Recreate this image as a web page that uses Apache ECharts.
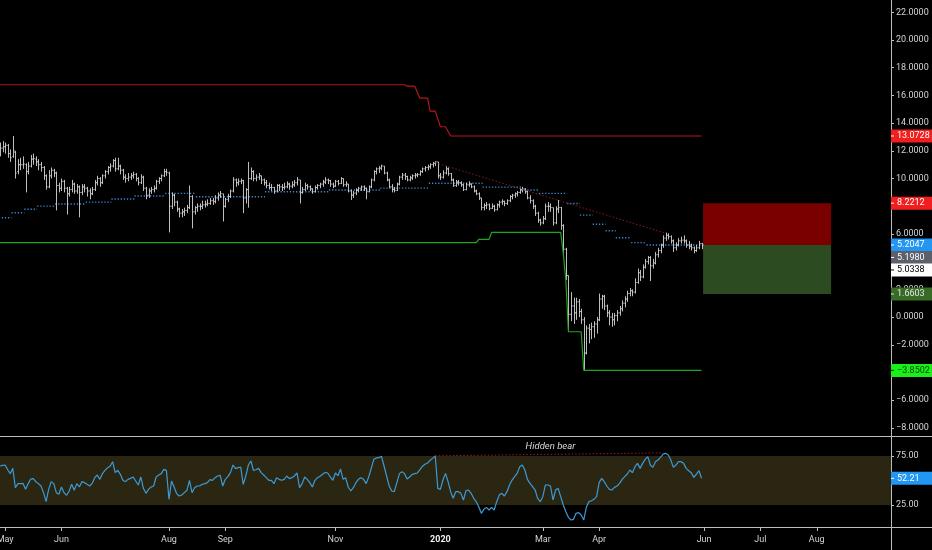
<!DOCTYPE html>
<html>
<head>
<meta charset="utf-8">
<script src="https://cdn.jsdelivr.net/npm/echarts@6/dist/echarts.min.js"></script>
<style>
html,body{margin:0;padding:0;background:#000;}
#main{width:932px;height:550px;}
</style>
</head>
<body>
<div id="main"></div>
<script>
// daily bars: [open, high, low, close], first bar = 2019-04-29
var ohlc = [
  [12.0,12.6,11.6,12.2],[12.2,12.7,11.9,12.3],[12.3,12.6,11.8,12.4],[12.4,12.5,11.5,11.8],[11.8,12.1,11.2,11.5],
  [11.6,13.0728,11.5,12.0],[11.9,12.0,10.0,10.4],[10.5,11.4,10.3,11.0],[11.0,11.5,10.6,11.0],[11.0,11.6,10.7,11.05],
  [11.0,11.1,9.0,10.5],[10.5,11.2,10.3,10.9],[10.9,11.7,10.8,11.4],[11.4,11.8,11.0,11.45],[11.4,11.6,10.9,11.2],
  [11.2,11.4,10.6,11.0],[11.0,11.2,10.5,10.8],[10.8,10.9,9.9,10.2],[10.2,10.3,9.2,9.4],[9.4,10.6,9.3,10.2],
  [10.2,10.8,10.0,10.6],[10.6,10.7,10.1,10.4],[10.4,10.5,7.7,9.5],[9.5,9.7,9.0,9.3],[9.3,10.0,9.1,9.8],
  [9.8,9.9,9.0,9.3],[9.3,9.4,7.4,8.9],[8.9,9.4,8.7,9.2],[9.2,9.9,9.0,9.6],[9.6,9.7,8.9,9.1],
  [9.1,9.6,8.9,9.4],[9.4,9.5,7.2,9.0],[9.0,9.6,8.8,9.4],[9.4,9.6,9.0,9.3],[9.3,9.4,8.7,9.1],
  [9.1,9.3,8.5,8.9],[8.9,9.4,8.8,9.2],[9.2,9.9,9.1,9.7],[9.7,10.2,9.5,10.0],[10.0,10.1,9.4,9.7],
  [9.7,10.3,9.6,10.2],[10.2,10.6,10.0,10.5],[10.5,10.9,10.3,10.8],[10.8,11.1,10.5,10.9],[10.9,11.4,10.8,11.3],
  [11.3,11.5,10.5,10.7],[10.7,11.5,10.6,10.9],[10.9,11.0,10.3,10.6],[10.6,10.7,9.9,10.1],[10.1,10.3,9.7,10.0],
  [10.0,10.4,9.8,10.1],[10.1,10.4,9.9,10.2],[10.2,10.5,10.0,10.3],[10.3,10.4,9.8,10.0],[10.0,10.1,9.5,9.7],
  [9.7,10.3,9.6,10.1],[10.1,10.2,9.1,9.3],[9.3,9.4,8.5,8.8],[8.8,9.3,8.6,9.1],[9.1,9.4,8.9,9.2],
  [9.2,9.5,9.0,9.3],[9.3,9.9,9.2,9.8],[9.8,10.1,9.6,10.0],[10.0,10.3,9.8,10.2],[10.2,10.7,10.1,10.5],
  [10.5,10.7,10.2,10.45],[10.4,10.5,6.11,8.0],[8.0,9.0,7.8,8.8],[8.8,8.9,8.0,8.3],[8.3,8.4,7.6,7.8],
  [7.8,7.9,7.2,7.5],[7.5,7.8,7.2,7.6],[7.6,7.9,7.3,7.7],[7.7,8.1,7.5,7.9],[7.9,9.5,7.8,8.7],
  [8.7,8.8,6.4,7.6],[7.6,8.0,7.4,7.9],[7.9,8.2,7.6,8.0],[8.0,8.2,7.7,8.0],[8.0,8.4,7.8,8.1],
  [8.1,8.4,7.9,8.15],[8.15,8.5,8.0,8.2],[8.2,8.6,8.1,8.4],[8.4,8.6,8.1,8.35],[8.35,8.8,8.2,8.6],
  [8.6,9.0,8.4,8.8],[8.8,9.1,8.6,8.9],[8.9,8.9,6.9,8.0],[8.0,8.6,7.9,8.5],[8.5,8.9,8.3,8.7],
  [8.7,9.2,8.6,9.1],[9.1,10.1,9.0,9.9],[9.9,10.0,9.4,9.7],[9.7,10.0,9.5,9.8],[9.8,10.0,9.6,9.85],
  [9.85,9.9,7.5,8.6],[8.6,9.3,8.2,9.2],[9.2,11.2,7.9,10.0],[10.0,10.8,9.9,10.5],[10.5,10.6,9.8,10.0],
  [10.0,10.3,9.8,10.1],[10.1,10.4,9.9,10.2],[10.2,10.2,9.6,9.9],[9.9,10.0,9.5,9.7],[9.7,9.9,9.3,9.5],
  [9.5,9.7,9.2,9.35],[9.35,9.6,9.1,9.35],[9.35,9.4,8.9,9.1],[9.1,9.6,9.0,9.5],[9.5,9.6,9.1,9.4],
  [9.4,9.6,9.1,9.35],[9.35,9.7,9.2,9.4],[9.4,9.8,9.3,9.6],[9.6,9.7,9.2,9.45],[9.45,9.8,9.3,9.55],
  [9.55,9.9,9.4,9.7],[9.7,10.1,9.5,9.9],[9.9,9.9,8.2,9.0],[9.0,9.4,8.9,9.2],[9.2,9.7,9.1,9.5],
  [9.5,9.6,9.2,9.4],[9.4,9.5,9.1,9.25],[9.25,9.3,8.9,9.05],[9.05,9.5,9.0,9.35],[9.35,9.6,9.2,9.5],
  [9.5,9.7,9.3,9.6],[9.6,9.9,9.4,9.75],[9.75,10.1,9.6,9.9],[9.9,10.0,9.6,9.85],[9.85,9.9,9.4,9.6],
  [9.6,9.7,9.3,9.45],[9.45,9.9,9.4,9.8],[9.8,9.9,9.5,9.65],[9.65,10.1,9.6,10.0],[10.0,10.0,9.4,9.55],
  [9.55,9.8,9.4,9.6],[9.6,9.6,9.0,9.1],[9.1,9.2,8.45,8.8],[8.8,9.1,8.6,8.95],[8.95,9.3,8.8,9.15],
  [9.15,9.4,9.0,9.3],[9.3,9.5,9.1,9.4],[9.4,9.5,9.1,9.3],[9.3,9.35,8.5,9.05],[9.05,9.5,9.0,9.4],
  [9.4,10.0,9.3,9.9],[9.9,10.6,9.8,10.5],[10.5,10.8,10.3,10.7],[10.7,10.9,10.4,10.75],[10.75,11.0,10.6,10.9],
  [10.9,10.9,10.3,10.4],[10.4,10.5,9.8,9.9],[9.9,10.0,9.3,9.4],[9.4,9.6,9.0,9.2],[9.2,9.4,9.0,9.15],
  [9.15,9.7,9.1,9.6],[9.6,10.2,9.5,10.1],[10.1,10.4,9.9,10.25],[10.25,10.4,9.9,10.15],[10.15,10.2,9.8,9.9],
  [9.9,10.2,9.8,10.05],[10.05,10.3,9.9,10.2],[10.2,10.4,10.0,10.25],[10.25,10.4,10.1,10.3],[10.3,10.6,10.2,10.5],
  [10.5,10.8,10.4,10.7],[10.7,10.9,10.5,10.8],[10.8,11.0,10.6,10.85],[10.85,11.1,10.7,11.0],[11.0,11.2,10.8,11.1],
  [11.1,11.25,10.9,11.2],[11.2,11.2,10.0,10.2],[10.2,10.4,9.9,10.1],[10.1,10.6,10.0,10.4],[10.4,10.9,10.3,10.7],
  [10.7,10.8,10.2,10.35],[10.35,10.4,9.8,9.9],[9.9,10.0,9.4,9.5],[9.5,9.9,9.4,9.75],[9.75,9.9,9.5,9.7],
  [9.7,9.8,9.4,9.55],[9.55,9.6,9.1,9.2],[9.2,9.7,9.15,9.55],[9.55,9.8,9.4,9.6],[9.6,9.65,9.3,9.4],
  [9.4,9.5,9.0,9.1],[9.1,9.2,8.8,8.9],[8.9,9.0,8.45,8.6],[8.6,8.6,7.7,7.9],[7.9,8.2,7.7,8.05],
  [8.05,8.3,7.8,8.1],[8.1,8.2,7.7,7.85],[7.85,8.2,7.8,8.0],[8.0,8.1,7.6,7.75],[7.75,8.2,7.7,8.1],
  [8.1,8.4,7.9,8.3],[8.3,8.5,8.1,8.35],[8.35,8.4,8.0,8.2],[8.2,8.5,8.1,8.4],[8.4,8.8,8.3,8.7],
  [8.7,8.9,8.5,8.8],[8.8,9.0,8.6,8.9],[8.9,9.1,8.7,9.0],[9.0,9.3,8.9,9.2],[9.2,9.4,9.0,9.25],
  [9.25,9.3,8.9,9.05],[9.05,9.1,8.5,8.6],[8.6,8.8,8.2,8.4],[8.4,8.5,7.8,8.0],[8.0,8.1,7.3,7.5],
  [7.5,7.6,6.8,7.0],[7.0,7.1,6.6,6.8],[6.8,7.3,6.7,7.1],[7.1,8.2,7.0,8.0],[8.0,8.3,7.6,8.0],
  [8.0,8.2,7.6,7.9],[7.9,7.9,6.6,6.8],[6.8,8.0,6.7,7.8],[7.8,8.45,7.5,7.9],[7.9,7.95,6.3,6.6],
  [6.6,6.7,4.6,4.9],[4.9,5.0,2.67,3.0],[3.0,3.0,-1.06,0.2],[0.2,1.8,-0.3,0.8],[0.8,1.4,-0.5,0.3],
  [0.3,1.4,-0.2,1.1],[1.1,1.3,0.0,0.4],[0.4,0.6,-0.5,-0.2],[-0.2,0.0,-3.8502,-2.6],[-2.6,-0.6,-2.7,-0.8],
  [-0.8,-0.5,-1.9,-0.9],[-0.9,-0.4,-1.6,-0.7],[-0.7,-0.3,-1.5,-0.5],[-0.5,0.0,-1.2,-0.2],[-0.2,1.7,-0.3,1.3],
  [1.3,1.6,0.6,1.5],[1.5,1.6,0.5,0.8],[0.8,0.9,0.0,0.3],[0.3,0.5,-0.6,0.0],[0.0,0.3,-0.7,-0.2],
  [-0.2,0.3,-0.6,0.1],[0.1,0.5,-0.3,0.3],[0.3,0.8,0.1,0.6],[0.6,1.2,0.4,1.0],[1.0,1.5,0.7,1.3],
  [1.3,1.9,1.1,1.7],[1.7,2.1,1.5,1.9],[1.9,2.0,1.5,1.8],[1.8,2.8,1.7,2.5],[2.5,3.5,2.4,3.2],
  [3.2,3.4,2.6,2.9],[2.9,3.8,2.8,3.6],[3.6,4.2,3.5,4.0],[4.0,4.4,3.8,4.3],[4.3,4.4,2.6,3.7],
  [3.7,4.2,3.5,3.9],[3.9,4.7,3.8,4.5],[4.5,5.0,4.3,4.8],[4.8,5.3,4.6,5.2],[5.2,5.9,5.0,5.7],
  [5.7,6.1,5.5,5.9],[5.9,6.05,5.6,5.8],[5.8,5.9,5.3,5.5],[5.5,5.6,4.7,5.0],[5.0,5.4,4.8,5.2],
  [5.2,5.7,5.1,5.5],[5.5,5.8,5.3,5.55],[5.55,5.9,5.3,5.5],[5.5,5.6,5.0,5.2],[5.2,5.5,4.9,5.1],
  [5.1,5.3,4.8,5.0],[5.0,5.1,4.6,4.8],[4.8,5.2,4.7,5.0],[5.0,5.5,4.9,5.3],[5.3,5.35,4.9,5.198]
];

// RSI, one value per bar
var rsi = [
  64.8,65.5,65.8,61,57,62.4,42.7,46.8,46.8,47,
  41,46.8,51.5,51.9,48.8,46.8,44.4,37.6,28.4,41,
  48.8,46.8,37.6,35.9,43.4,37.6,34.9,39.3,46.1,40,
  46.8,43.4,48.8,47.8,46.1,44.4,47,52.9,55.6,51.2,
  57,60.4,63.1,64.5,69.2,58,60.4,56.3,50.2,48.8,
  51.2,52.2,53.6,49.5,45.4,53.6,42,36.9,41,43.4,
  44.4,53.6,55.6,57,61.4,60.4,30.8,49.5,43.4,36.6,
  34.2,35.2,37.6,40,50.2,37.6,42.7,44.4,44.4,46.1,
  46.8,47.8,50.9,50.2,52.9,54.6,55.3,44.4,51.2,53.9,
  58,65.8,62.1,63.1,63.8,46.1,54.6,65.8,69.9,60.4,
  61,62.4,58,55.6,52.9,50.2,50.2,46.8,52.9,51.2,
  50.2,51.2,54.6,51.9,52.9,54.6,57.7,42.7,46.8,53.6,
  51.2,47.8,43.4,50.2,52.9,54.3,56.3,58.3,57.7,53.6,
  50.2,57.7,54.9,61.7,51.2,52.9,43.4,39.3,42.7,47.8,
  51.2,52.9,51.2,46.8,53.6,62.4,71.6,73,73.3,74.7,
  64.8,54.6,44.4,39.3,38.6,47.8,57,59,57,51.5,
  53.6,56.3,57,57.7,61,64.5,66.5,67.9,70.6,72.6,
  75,42,41,50.5,57.3,48.8,38.6,31.8,38.6,38.6,
  36.9,30.1,39.6,40.3,36.9,31.8,28.4,23.3,16.5,20.6,
  22.6,19.9,22.6,19.9,28.4,35.2,36.9,34.2,38.6,45.4,
  50.5,53.9,57.3,64.1,65.8,60.7,51.2,47.1,43.7,40.3,
  31.8,28.4,33.5,45.4,45.4,44.4,30.1,40.3,42,33.5,
  25,18.2,12.4,9.7,10.4,16.5,17.2,14.8,9.7,22.6,
  28.4,29.4,30.8,33.5,47.8,52.2,48.8,44.4,41,40.3,
  43,44.4,47.1,51.2,53.9,56.6,60.7,58,64.1,67.5,
  62.4,67.5,71.6,74.3,65.8,63.4,69.2,70.9,73.6,77,
  77.7,76,70.9,63.4,65.8,69.2,69.2,67.5,62.4,60,
  58,53.2,56.6,60,52.21
];

// channel lines: [bar, value]
var upperBand = [[0,16.77],[158,16.77],[159,16.67],[162,16.67],[164,15.8],[167,15.8],[168,14.87],[170,14.87],
  [172,13.74],[174,13.74],[176,13.0728],[274,13.0728]];
var lowerBand = [[0,5.38],[186,5.38],[187,5.61],[191,5.61],[192,6.11],[219,6.11],[220,4.6],[221,2.67],
  [222,-1.06],[227,-1.06],[228,-3.8502],[274,-3.8502]];

// higher timeframe average, drawn as flat dotted steps: [fromBar, toBar, value]
var maSteps = [[0,4,7.17],[5,9,7.53],[10,14,7.78],[15,21,8.01],[22,33,8.16],[34,43,8.30],[44,52,8.52],
  [53,64,8.74],[65,76,8.93],[77,103,8.68],[104,128,9.05],[129,148,9.17],[149,167,9.31],[168,188,9.66],
  [189,203,9.38],[204,210,9.17],[211,221,8.93],[222,226,8.2],[227,231,7.36],[232,236,6.7],[237,240,6.23],
  [241,246,5.73],[247,252,5.37],[253,274,5.2047]];

var trendPrice = [[170,11.15],[260,6.05]];
var trendRsi = [[170,75.2],[259,78.2]];

// trade box: target / entry / stop over bars
var boxFrom = 274.6, boxTo = 324.6;
var boxTarget = 8.2212, boxEntry = 5.2, boxStop = 1.6603;

var priceTicks = [22,20,18,16,14,12,10,6,2,0,-2,-6,-8];
var rsiTicks = [25,75];
var monthKeys = ['2019-05','2019-06','2019-08','2019-09','2019-11','2020-01','2020-03','2020-04','2020-06','2020-07','2020-08'];
var monthLabels = ['May','Jun','Aug','Sep','Nov','2020','Mar','Apr','Jun','Jul','Aug'];
var holidays = ['2019-05-27','2019-07-04','2019-09-02','2019-11-28','2019-12-25','2020-01-01','2020-01-20',
  '2020-02-17','2020-04-10','2020-05-25','2020-07-03','2020-09-07'];

// trading calendar (weekdays minus exchange holidays)
var days = [];
var d = new Date(Date.UTC(2019, 3, 29));
while (days.length < 360) {
  var key = d.toISOString().slice(0, 10);
  var wd = d.getUTCDay();
  if (wd != 0 && wd != 6 && holidays.indexOf(key) == -1) days.push(key);
  d.setUTCDate(d.getUTCDate() + 1);
}
var monthIdx = [], labelAt = {};
for (var m = 0; m < monthKeys.length; m++) {
  for (var k = 0; k < days.length; k++) {
    if (days[k].slice(0, 7) == monthKeys[m]) { monthIdx.push(k); labelAt[k] = monthLabels[m]; break; }
  }
}

var barData = ohlc.map(function (r, i) { return [i, r[0], r[1], r[2], r[3]]; });
var rsiData = rsi.map(function (v, i) { return [i, v]; });

function fmtPrice(v) {
  return (v < 0 ? '\u2212' : '') + Math.abs(v).toFixed(4);
}

function renderBar(params, api) {
  var i = api.value(0);
  var pO = api.coord([i, api.value(1)]);
  var pH = api.coord([i, api.value(2)]);
  var pL = api.coord([i, api.value(3)]);
  var pC = api.coord([i, api.value(4)]);
  var x = Math.round(pH[0]) + 0.5;
  var st = { stroke: '#d2d2d2', lineWidth: 0.9 };
  return {
    type: 'group',
    children: [
      { type: 'line', shape: { x1: x, y1: pH[1], x2: x, y2: pL[1] }, style: st },
      { type: 'line', shape: { x1: x - 1.2, y1: pO[1], x2: x, y2: pO[1] }, style: st },
      { type: 'line', shape: { x1: x, y1: pC[1], x2: x + 1.2, y2: pC[1] }, style: st }
    ]
  };
}

function renderStep(params, api) {
  var a = api.coord([api.value(0) - 0.5, api.value(2)]);
  var b = api.coord([api.value(1) + 0.5, api.value(2)]);
  return {
    type: 'line',
    shape: { x1: a[0], y1: a[1], x2: b[0], y2: b[1] },
    style: { stroke: '#3a86cf', lineWidth: 1.4, lineDash: [1.3, 1.8] }
  };
}

var chart = echarts.init(document.getElementById('main'));
var labelFont = { color: '#d4d4d4', fontSize: 9, fontFamily: 'Roboto' };

var option = {
  backgroundColor: '#000',
  animation: false,
  grid: [
    { left: 0, right: 41, top: 0, height: 437, outerBoundsMode: 'none', containLabel: false },
    { left: 0, right: 41, top: 437, height: 91, outerBoundsMode: 'none', containLabel: false }
  ],
  xAxis: [
    { type: 'value', gridIndex: 0, min: 0, max: 348, show: false, axisLine: { onZero: false } },
    {
      type: 'value', gridIndex: 1, min: 0, max: 348,
      axisLine: { show: false, onZero: false },
      splitLine: { show: false },
      axisTick: { show: true, customValues: monthIdx, length: 3, lineStyle: { color: '#bdbdbd' } },
      axisLabel: {
        customValues: monthIdx, margin: 7, color: '#d4d4d4', fontSize: 9, fontFamily: 'Roboto',
        formatter: function (v) {
          var t = labelAt[v] || '';
          return t == '2020' ? '{b|2020}' : t;
        },
        rich: { b: { fontWeight: 'bold', color: '#f0f0f0', fontSize: 9, fontFamily: 'Roboto' } }
      }
    }
  ],
  yAxis: [
    {
      type: 'value', gridIndex: 0, position: 'right', min: -8.66, max: 22.89,
      axisLine: { show: false, onZero: false }, splitLine: { show: false },
      axisTick: { show: true, customValues: priceTicks, length: 3, lineStyle: { color: '#bdbdbd' } },
      axisLabel: Object.assign({ customValues: priceTicks, margin: 5, formatter: fmtPrice }, labelFont)
    },
    {
      type: 'value', gridIndex: 1, position: 'right', min: 1.53, max: 94.4,
      axisLine: { show: false, onZero: false }, splitLine: { show: false },
      axisTick: { show: true, customValues: rsiTicks, length: 3, lineStyle: { color: '#bdbdbd' } },
      axisLabel: Object.assign({ customValues: rsiTicks, margin: 5, formatter: function (v) { return v.toFixed(2); } }, labelFont)
    }
  ],
  series: [
    {
      name: 'box', type: 'line', xAxisIndex: 0, yAxisIndex: 0, data: [], silent: true,
      markArea: {
        silent: true,
        data: [
          [{ coord: [boxFrom, boxTarget], itemStyle: { color: '#7a0000' } }, { coord: [boxTo, boxEntry] }],
          [{ coord: [boxFrom, boxEntry], itemStyle: { color: '#2d4b21' } }, { coord: [boxTo, boxStop] }]
        ]
      }
    },
    {
      name: 'upper', type: 'line', xAxisIndex: 0, yAxisIndex: 0, data: upperBand,
      symbol: 'none', lineStyle: { color: '#b5161b', width: 1.2 }, silent: true
    },
    {
      name: 'lower', type: 'line', xAxisIndex: 0, yAxisIndex: 0, data: lowerBand,
      symbol: 'none', lineStyle: { color: '#22a322', width: 1.2 }, silent: true
    },
    {
      name: 'avg', type: 'custom', xAxisIndex: 0, yAxisIndex: 0, data: maSteps,
      renderItem: renderStep, encode: { x: [0, 1], y: 2 }, silent: true
    },
    {
      name: 'trend', type: 'line', xAxisIndex: 0, yAxisIndex: 0, data: trendPrice,
      symbol: 'none', lineStyle: { color: '#8c1a1a', width: 1, type: [1.5, 2] }, silent: true
    },
    {
      name: 'bars', type: 'custom', xAxisIndex: 0, yAxisIndex: 0, data: barData,
      renderItem: renderBar, encode: { x: 0, y: [1, 2, 3, 4] }, silent: true
    },
    {
      name: 'rsi', type: 'line', xAxisIndex: 1, yAxisIndex: 1, data: rsiData,
      symbol: 'none', lineStyle: { color: '#3d9ad6', width: 1.2 }, silent: true,
      markArea: {
        silent: true,
        data: [[{ coord: [0, 75], itemStyle: { color: '#2a2612' } }, { coord: [348, 25] }]]
      }
    },
    {
      name: 'hidden', type: 'line', xAxisIndex: 1, yAxisIndex: 1, data: trendRsi,
      symbol: 'none', lineStyle: { color: '#a01c1c', width: 1, type: [1.5, 2] }, silent: true
    }
  ]
};
chart.setOption(option);

// axis badges and frame
var badgeValues = [13.0728, 8.2212, 5.2047, 5.1980, 5.0338, 1.6603, -3.8502];
var badgeFill = ['#f21d1d', '#f21d1d', '#2196f3', '#5d606b', '#ffffff', '#386b25', '#19f019'];
var badgeText = ['#ffffff', '#ffffff', '#ffffff', '#ffffff', '#000000', '#e6e6e6', '#0a3a0a'];

var els = [];
function badge(y, txt, fill, col) {
  els.push({ type: 'rect', shape: { x: 891, y: y - 6.5, width: 41, height: 13 }, style: { fill: fill }, z: 100 });
  els.push({ type: 'line', shape: { x1: 891, y1: y, x2: 894, y2: y }, style: { stroke: col, lineWidth: 1 }, z: 101 });
  els.push({
    type: 'text', x: 897, y: y, z: 101,
    style: { text: txt, fill: col, fontSize: 9, fontFamily: 'Roboto', verticalAlign: 'middle', align: 'left' }
  });
}
var prevY = -100;
badgeValues.forEach(function (v, i) {
  var y = chart.convertToPixel({ yAxisIndex: 0 }, v);
  if (y < prevY + 12.5) y = prevY + 12.5;
  prevY = y;
  badge(y, fmtPrice(v), badgeFill[i], badgeText[i]);
});
badge(chart.convertToPixel({ yAxisIndex: 1 }, rsi[rsi.length - 1]), rsi[rsi.length - 1].toFixed(2), '#2196f3', '#ffffff');

var frame = { stroke: '#bdbdbd', lineWidth: 1 };
els.push({ type: 'line', shape: { x1: 0, y1: 436.5, x2: 932, y2: 436.5 }, style: frame, z: 90 });
els.push({ type: 'line', shape: { x1: 0, y1: 527.5, x2: 932, y2: 527.5 }, style: frame, z: 90 });
els.push({ type: 'line', shape: { x1: 891.5, y1: 0, x2: 891.5, y2: 550 }, style: frame, z: 90 });

var hbX = chart.convertToPixel({ xAxisIndex: 1 }, 215);
var hbY = chart.convertToPixel({ yAxisIndex: 1 }, 84.5);
els.push({
  type: 'text', x: hbX, y: hbY, z: 95,
  style: { text: 'Hidden bear', fill: '#d8d8d8', fontSize: 9.5, fontStyle: 'italic', fontFamily: 'Roboto', align: 'center', verticalAlign: 'middle' }
});

chart.setOption({ graphic: { elements: els } });
</script>
</body>
</html>
